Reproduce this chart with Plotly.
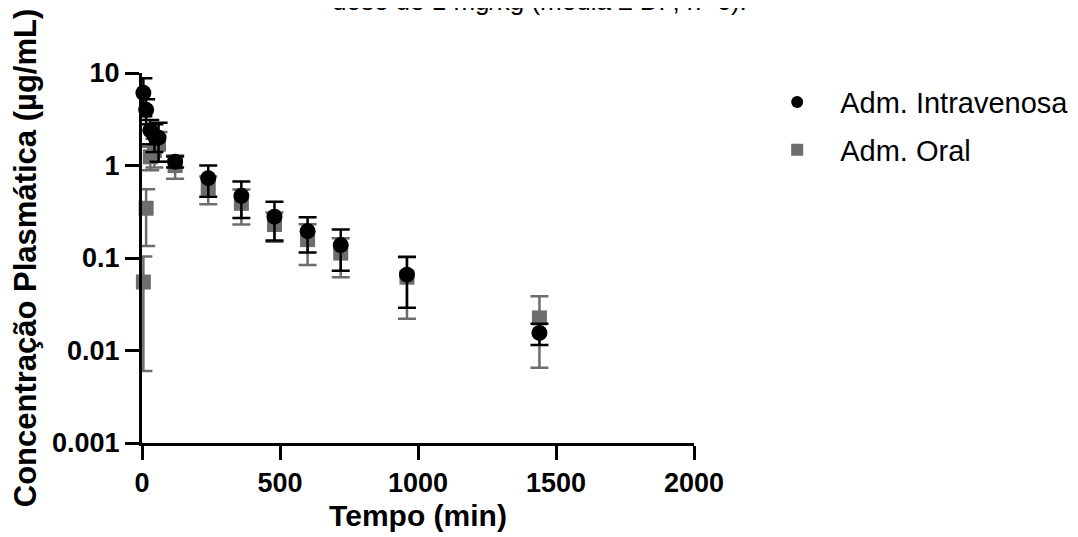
import plotly.graph_objects as go

time_min = [5, 15, 30, 45, 60, 120, 240, 360, 480, 600, 720, 960, 1440]
iv_mean = [6.1, 4.0, 2.4, 2.1, 2.0, 1.1, 0.73, 0.47, 0.28, 0.195, 0.138, 0.066, 0.0155]
iv_sd = [2.7, 1.2, 0.7, 0.7, 0.9, 0.15, 0.27, 0.2, 0.125, 0.08, 0.065, 0.037, 0.004]
oral_mean = [0.055, 0.345, 1.24, 1.45, 1.7, 1.0, 0.57, 0.39, 0.23, 0.158, 0.113, 0.062, 0.0225]
oral_sd = [0.049, 0.21, 0.35, 0.5, 0.6, 0.28, 0.19, 0.16, 0.08, 0.074, 0.051, 0.04, 0.016]

y_tickvals = [0.001, 0.01, 0.1, 1, 10]
y_ticktext = ["0.001", "0.01", "0.1", "1", "10"]
x_tickvals = [0, 500, 1000, 1500, 2000]

FONT = "Liberation Sans, Arial, sans-serif"
GREY = "#6d6d6d"

fig = go.Figure()
fig.add_trace(go.Scatter(
    x=time_min, y=oral_mean, mode="markers", name="Adm. Oral",
    legendgroup="oral", legendrank=2,
    marker=dict(symbol="square", size=15, color=GREY),
    error_y=dict(type="data", array=oral_sd, color=GREY, thickness=2.5, width=9),
    cliponaxis=False,
))
fig.add_trace(go.Scatter(
    x=time_min, y=iv_mean, mode="markers", name="Adm. Intravenosa",
    legendgroup="iv", legendrank=1,
    marker=dict(symbol="circle", size=16, color="black"),
    error_y=dict(type="data", array=iv_sd, color="black", thickness=2.5, width=9),
    cliponaxis=False,
))

fig.update_layout(
    width=1078, height=537,
    margin=dict(l=134, r=392, t=65, b=102, autoexpand=False),
    paper_bgcolor="white", plot_bgcolor="white",
    font=dict(family=FONT, color="black"),
    showlegend=True,
    legend=dict(
        x=1.109, y=0.99, xanchor="left", yanchor="top",
        traceorder="grouped",
        font=dict(size=29, family=FONT, color="black"),
        itemsizing="constant",
        itemwidth=76,
        tracegroupgap=7,
        bgcolor="rgba(0,0,0,0)",
    ),
    annotations=[dict(
        text="dose de 1 mg/kg (média ± DP, n=6).",
        xref="paper", yref="paper", x=0.721, y=1.195,
        xanchor="center", yanchor="middle", showarrow=False,
        font=dict(size=26, family=FONT, color="black"),
    )],
)

fig.update_xaxes(
    range=[0, 2000], tickvals=x_tickvals,
    showline=True, linewidth=3, linecolor="black",
    ticks="outside", ticklen=14, tickwidth=3, tickcolor="black",
    showgrid=False, zeroline=False,
    tickfont=dict(size=27, family=FONT, color="black", weight="bold"),
    title=dict(text="<b>Tempo (min)</b>", font=dict(size=30, family=FONT, color="black"), standoff=8),
)
fig.update_yaxes(
    type="log", range=[-3, 1], tickvals=y_tickvals, ticktext=y_ticktext,
    showline=True, linewidth=3, linecolor="black",
    ticks="outside", ticklen=14, tickwidth=3, tickcolor="black",
    showgrid=False, zeroline=False,
    tickfont=dict(size=27, family=FONT, color="black", weight="bold"),
    title=dict(text="<b>Concentração Plasmática (µg/mL)</b>", font=dict(size=31, family=FONT, color="black"), standoff=8),
)

fig.write_html("out.html")
